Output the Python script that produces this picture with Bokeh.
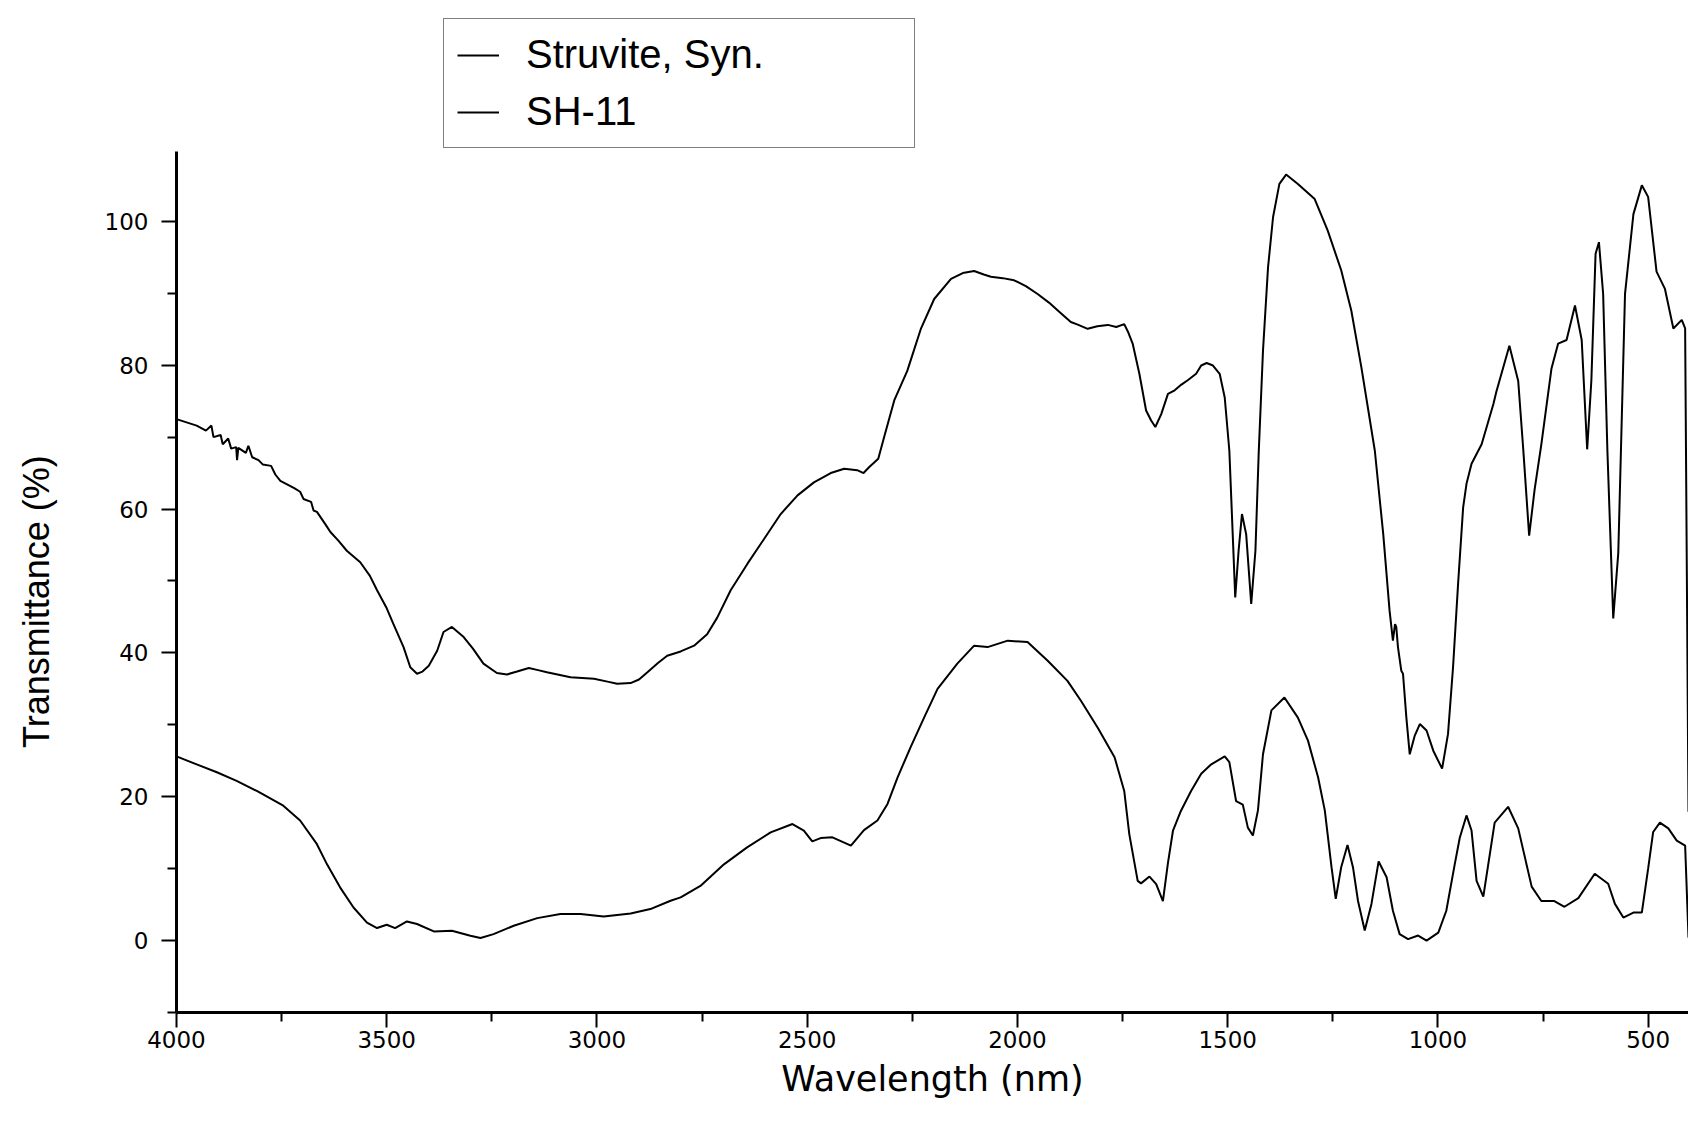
from bokeh.plotting import figure
from bokeh.models import Range1d, FixedTicker, Legend, LegendItem
from bokeh.embed import file_html
from bokeh.resources import INLINE

# ---- data ----
struvite_x = [4000, 3952, 3930, 3917, 3912, 3895, 3890, 3877, 3870, 3858, 3856, 3853,
              3835, 3829, 3820, 3805, 3795, 3775, 3765, 3753, 3720, 3706, 3698, 3680,
              3674, 3666, 3645, 3634, 3615, 3595, 3563, 3540, 3523, 3500, 3484, 3460,
              3444, 3428, 3415, 3400, 3380, 3365, 3345, 3317, 3295, 3270, 3238, 3214,
              3190, 3162, 3140, 3119, 3063, 3007, 2975, 2952, 2920, 2900, 2880, 2855,
              2833, 2801, 2769, 2738, 2714, 2682, 2642, 2603, 2563, 2523, 2484, 2444,
              2412, 2381, 2366, 2353, 2331, 2317, 2293, 2262, 2230, 2198, 2158, 2130,
              2103, 2080, 2063, 2035, 2008, 1980, 1952, 1925, 1900, 1873, 1855, 1833,
              1810, 1785, 1765, 1746, 1736, 1726, 1710, 1694, 1682, 1672, 1658, 1642,
              1626, 1610, 1595, 1575, 1563, 1550, 1535, 1519, 1507, 1496, 1488, 1482,
              1474, 1466, 1456, 1444, 1434, 1426, 1416, 1404, 1392, 1377, 1361, 1333,
              1293, 1262, 1230, 1206, 1182, 1150, 1130, 1115, 1107, 1102, 1099, 1095,
              1087, 1083, 1075, 1067, 1055, 1043, 1027, 1011, 990, 976, 964, 952,
              940, 932, 920, 896, 868, 861, 830, 809, 797, 783, 770, 754,
              730, 714, 694, 674, 658, 645, 635, 625, 617, 607, 597, 583,
              571, 555, 535, 515, 500, 480, 460, 440, 420, 412, 404]
struvite_y = [72.5, 71.6, 70.9, 71.6, 70.0, 70.3, 69.0, 69.8, 68.4, 68.6, 66.8, 68.5,
              67.8, 68.8, 67.2, 66.8, 66.2, 66.0, 64.8, 63.9, 62.9, 62.4, 61.4, 61.0,
              59.8, 59.6, 57.8, 56.8, 55.6, 54.2, 52.6, 50.7, 48.7, 46.2, 44.0, 40.8,
              38.0, 37.1, 37.4, 38.2, 40.3, 42.9, 43.6, 42.2, 40.6, 38.5, 37.2, 37.0,
              37.4, 37.9, 37.6, 37.3, 36.6, 36.4, 36.0, 35.7, 35.8, 36.3, 37.3, 38.6,
              39.6, 40.2, 41.0, 42.6, 44.9, 48.7, 52.4, 55.8, 59.3, 61.9, 63.7, 65.0,
              65.6, 65.4, 65.0, 65.8, 67.0, 70.0, 75.1, 79.2, 85.0, 89.2, 92.0, 92.8,
              93.1, 92.6, 92.3, 92.1, 91.8, 91.0, 89.9, 88.7, 87.4, 86.0, 85.6, 85.05,
              85.4, 85.6, 85.3, 85.7, 84.5, 83.0, 78.8, 73.7, 72.3, 71.4, 73.2, 76.0,
              76.5, 77.3, 77.9, 78.8, 79.95, 80.3, 79.95, 78.8, 75.5, 68.1, 56.5, 47.7,
              54.2, 59.3, 56.5, 46.8, 54.2, 68.1, 82.0, 93.6, 100.6, 105.2, 106.5, 105.2,
              103.1, 98.7, 93.2, 87.6, 79.7, 68.1, 56.5, 45.9, 41.7, 44.0, 43.6, 40.8,
              37.5, 37.1, 31.0, 25.9, 28.5, 30.1, 29.2, 26.4, 23.9, 28.7, 38.0, 49.6,
              60.2, 63.5, 66.3, 69.0, 74.6, 76.3, 82.7, 77.8, 68.3, 56.3, 62.7, 69.0,
              79.5, 83.0, 83.5, 88.3, 83.5, 68.3, 77.9, 95.5, 97.1, 89.9, 68.3, 44.8,
              53.9, 89.9, 101.0, 105.0, 103.4, 93.0, 90.6, 85.1, 86.3, 85.1, 17.9]

sh11_x = [4000, 3952, 3904, 3857, 3809, 3746, 3706, 3666, 3642, 3611, 3579, 3547,
          3523, 3500, 3480, 3452, 3428, 3388, 3345, 3301, 3277, 3246, 3198, 3142,
          3087, 3039, 2984, 2920, 2873, 2825, 2801, 2754, 2698, 2643, 2587, 2535,
          2508, 2488, 2468, 2440, 2396, 2365, 2333, 2309, 2285, 2254, 2222, 2190,
          2143, 2103, 2071, 2023, 1976, 1928, 1881, 1849, 1809, 1769, 1746, 1734,
          1714, 1706, 1686, 1670, 1654, 1642, 1630, 1611, 1587, 1563, 1539, 1507,
          1496, 1480, 1464, 1452, 1440, 1428, 1416, 1396, 1365, 1333, 1309, 1285,
          1269, 1253, 1243, 1230, 1215, 1202, 1190, 1174, 1158, 1141, 1122, 1107,
          1091, 1071, 1047, 1027, 999, 980, 960, 948, 932, 920, 908, 892,
          865, 833, 809, 777, 754, 723, 699, 666, 627, 595, 579, 559,
          535, 515, 500, 488, 472, 452, 432, 412, 404]
sh11_y = [25.6, 24.5, 23.4, 22.2, 20.8, 18.75, 16.7, 13.4, 10.6, 7.4, 4.6, 2.5,
          1.74, 2.2, 1.74, 2.66, 2.3, 1.27, 1.36, 0.67, 0.35, 0.9, 2.06, 3.12,
          3.68, 3.68, 3.36, 3.77, 4.38, 5.54, 6.0, 7.6, 10.6, 12.96, 15.04, 16.2,
          15.3, 13.8, 14.25, 14.35, 13.2, 15.36, 16.7, 19.0, 22.7, 26.9, 31.0, 35.0,
          38.5, 41.0, 40.8, 41.7, 41.5, 38.9, 36.1, 33.35, 29.6, 25.5, 20.8, 14.8,
          8.3, 7.95, 8.9, 7.85, 5.5, 10.8, 15.3, 18.05, 20.8, 23.2, 24.5, 25.6,
          24.8, 19.4, 18.9, 15.7, 14.6, 18.1, 25.9, 32.0, 33.8, 31.0, 27.8, 22.7,
          18.1, 10.2, 5.8, 10.2, 13.3, 10.2, 5.5, 1.4, 5.1, 11.0, 8.8, 4.15,
          0.9, 0.2, 0.7, 0.0, 1.1, 4.15, 10.6, 14.3, 17.4, 15.3, 8.3, 6.1,
          16.4, 18.6, 15.6, 7.5, 5.5, 5.5, 4.7, 5.9, 9.3, 7.9, 5.1, 3.2,
          3.9, 3.9, 10.0, 15.1, 16.4, 15.6, 13.9, 13.2, 0.4]

series_labels = ["Struvite, Syn.", "SH-11"]
x_title = "Wavelength (nm)"
y_title = "Transmittance (%)"
x_major_ticks = [4000, 3500, 3000, 2500, 2000, 1500, 1000, 500]
x_minor_ticks = [3750, 3250, 2750, 2250, 1750, 1250, 750]
y_major_ticks = [0, 20, 40, 60, 80, 100]
y_minor_ticks = [-10, 10, 30, 50, 70, 90]

# ---- figure ----
# frame spans the full height above the x axis; the y axis line is bounded to -10..109.7
p = figure(width=1688, height=1134, output_backend="svg", toolbar_location=None,
           x_range=Range1d(4000, 404), y_range=Range1d(-10, 130.7),
           min_border_left=176, min_border_right=0, min_border_top=0,
           min_border_bottom=122)
p.outline_line_color = None
p.xgrid.visible = False
p.ygrid.visible = False
p.background_fill_color = "white"
p.border_fill_color = "white"

r1 = p.line(struvite_x, struvite_y, line_color="black", line_width=2)
r2 = p.line(sh11_x, sh11_y, line_color="black", line_width=2)

for ax in (p.xaxis[0], p.yaxis[0]):
    ax.axis_line_color = "black"
    ax.axis_line_width = 3
    ax.major_tick_line_color = "black"
    ax.major_tick_line_width = 2
    ax.minor_tick_line_color = "black"
    ax.minor_tick_line_width = 2
    ax.major_tick_in = 0
    ax.minor_tick_in = 0
    ax.major_tick_out = 15
    ax.minor_tick_out = 9
    ax.major_label_text_font = "DejaVu Sans"
    ax.major_label_text_font_size = "23px"
    ax.major_label_text_color = "black"
    ax.axis_label_text_font_style = "normal"
    ax.axis_label_text_color = "black"

p.yaxis.bounds = (-10, 109.7)
p.xaxis.ticker = FixedTicker(ticks=x_major_ticks, minor_ticks=x_minor_ticks)
p.yaxis.ticker = FixedTicker(ticks=y_major_ticks, minor_ticks=y_minor_ticks)
p.xaxis.axis_label = x_title
# trailing no-break spaces push the visible title down to where the reference has it
p.yaxis.axis_label = y_title + "\u00a0" * 19
p.xaxis.axis_label_text_font = "DejaVu Sans"
p.xaxis.axis_label_text_font_size = "35px"
p.yaxis.axis_label_text_font = "Liberation Sans"
p.yaxis.axis_label_text_font_size = "36px"
p.xaxis.major_label_standoff = 3
p.yaxis.major_label_standoff = 13
p.xaxis.axis_label_standoff = 8
p.yaxis.axis_label_standoff = 45

legend = Legend(items=[LegendItem(label=series_labels[0], renderers=[r1]),
                       LegendItem(label=series_labels[1], renderers=[r2])],
                location=(267, 864))
legend.border_line_color = "black"
legend.border_line_width = 1.5
legend.background_fill_color = "white"
legend.background_fill_alpha = 1.0
legend.label_text_font = "Liberation Sans"
legend.label_text_font_size = "40px"
legend.label_text_color = "black"
legend.glyph_width = 42
legend.glyph_height = 40
legend.label_height = 40
legend.label_standoff = 27
legend.label_width = 375
legend.padding = 13
legend.spacing = 12
legend.margin = 0
p.add_layout(legend)

open("out.html", "w").write(file_html(p, INLINE))
